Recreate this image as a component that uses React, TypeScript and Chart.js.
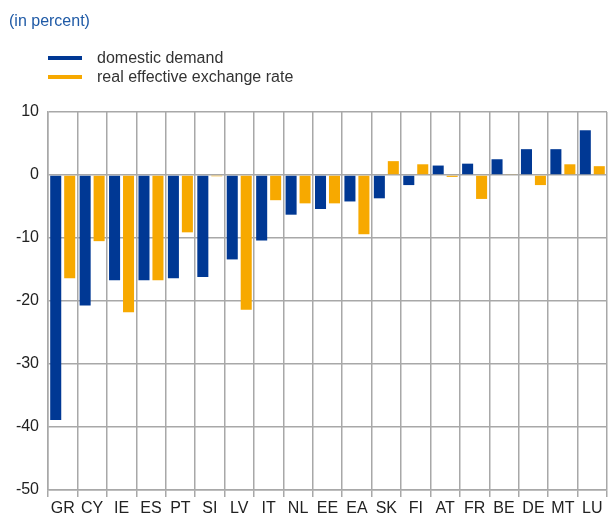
import React, { useEffect, useRef } from "react";
import { Chart, registerables } from "chart.js";

Chart.register(...registerables);

const categories = ["GR", "CY", "IE", "ES", "PT", "SI", "LV", "IT", "NL", "EE", "EA", "SK", "FI", "AT", "FR", "BE", "DE", "MT", "LU"];
const domesticDemand = [-38.9, -20.7, -16.7, -16.7, -16.4, -16.2, -13.4, -10.4, -6.3, -5.4, -4.2, -3.7, -1.6, 1.5, 1.8, 2.5, 4.1, 4.1, 7.1];
const realEffectiveExchangeRate = [-16.4, -10.5, -21.8, -16.7, -9.1, -0.2, -21.4, -4.0, -4.5, -4.5, -9.4, 2.2, 1.7, -0.3, -3.8, 0.1, -1.6, 1.7, 1.4];
const seriesNames = ["domestic demand", "real effective exchange rate"];
const yMin = -50;
const yMax = 10;
const yStep = 10;
const titleText = "(in percent)";

const BLUE = "#003894";
const ORANGE = "#f7a900";
const GRID = "#a8a8a8";
const FONT = "'Liberation Sans', Arial, sans-serif";

export default function App() {
  const canvasRef = useRef<HTMLCanvasElement | null>(null);

  useEffect(() => {
    document.body.style.margin = "0";
    const canvas = canvasRef.current;
    if (!canvas) return;
    const chart = new Chart(canvas, {
      type: "bar",
      data: {
        labels: categories,
        datasets: [
          {
            label: seriesNames[0],
            data: domesticDemand,
            backgroundColor: BLUE,
            borderWidth: 0,
            barPercentage: 0.79,
            categoryPercentage: 0.95,
          },
          {
            label: seriesNames[1],
            data: realEffectiveExchangeRate,
            backgroundColor: ORANGE,
            borderWidth: 0,
            barPercentage: 0.79,
            categoryPercentage: 0.95,
          },
        ],
      },
      options: {
        animation: false,
        responsive: false,
        maintainAspectRatio: false,
        devicePixelRatio: 1,
        layout: { padding: { top: 112, right: 1, left: 0, bottom: 0 } },
        plugins: {
          legend: { display: false },
          title: { display: false },
          tooltip: { enabled: false },
        },
        scales: {
          x: {
            offset: true,
            grid: {
              offset: true,
              color: GRID,
              lineWidth: 1.5,
              tickLength: 7,
              drawTicks: true,
            },
            border: { display: true, color: GRID, width: 1.5 },
            ticks: {
              color: "#222",
              font: { family: FONT, size: 16 },
              padding: 2,
              maxRotation: 0,
              minRotation: 0,
              autoSkip: false,
            },
            afterFit: (scale: any) => {
              scale.height = 25;
            },
          },
          y: {
            min: yMin,
            max: yMax,
            grid: {
              color: GRID,
              lineWidth: 1.5,
              drawTicks: false,
            },
            border: { display: true, color: GRID, width: 1.5 },
            ticks: {
              stepSize: yStep,
              color: "#222",
              font: { family: FONT, size: 16 },
              padding: 9,
            },
            afterFit: (scale: any) => {
              scale.width = 48;
            },
          },
        },
      },
    });
    return () => chart.destroy();
  }, []);

  const legendRow = (color: string, text: string, top: number) => (
    <div style={{ position: "absolute", left: 48, top: top - 10, height: 20, display: "flex", alignItems: "center" }}>
      <div style={{ width: 34, height: 4, background: color }} />
      <div style={{ marginLeft: 15, fontFamily: FONT, fontSize: 16, color: "#333", lineHeight: "20px", whiteSpace: "nowrap" }}>{text}</div>
    </div>
  );

  return (
    <div style={{ position: "relative", width: 608, height: 515, overflow: "hidden", background: "#fff" }}>
      <canvas ref={canvasRef} width={608} height={515} style={{ position: "absolute", left: 0, top: 0, width: 608, height: 515 }} />
      <div style={{ position: "absolute", left: 9, top: 11, fontFamily: FONT, fontSize: 16, color: "#1f5aa6", lineHeight: "20px", whiteSpace: "nowrap" }}>
        {titleText}
      </div>
      {legendRow(BLUE, seriesNames[0], 58)}
      {legendRow(ORANGE, seriesNames[1], 77)}
    </div>
  );
}
